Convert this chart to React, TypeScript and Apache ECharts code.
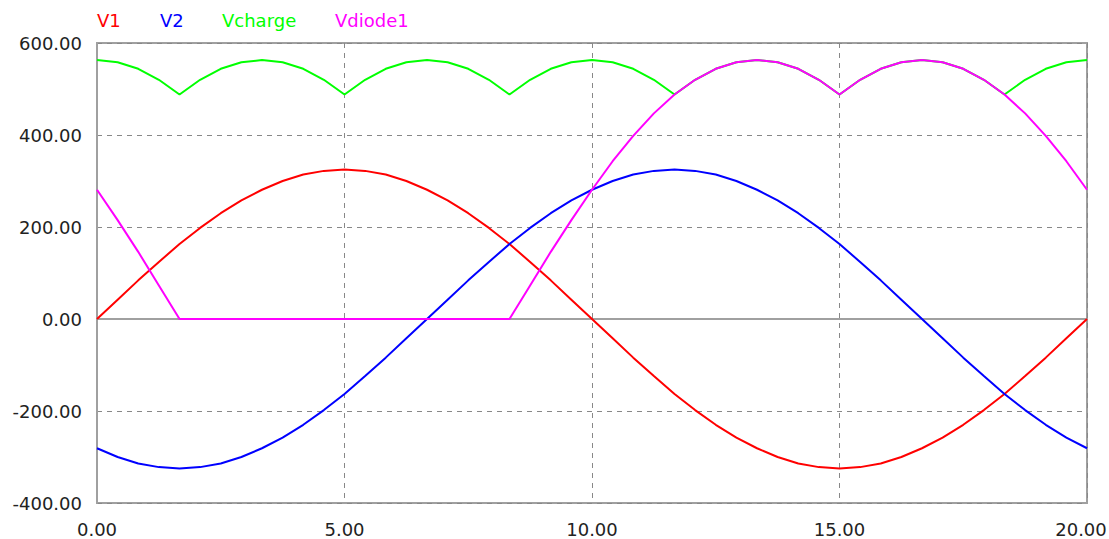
import React, { useEffect, useRef } from "react";
import * as echarts from "echarts";

const times = [0, 0.417, 0.833, 1.25, 1.667, 2.083, 2.5, 2.917, 3.333, 3.75, 4.167, 4.583, 5, 5.417, 5.833, 6.25, 6.667, 7.083, 7.5, 7.917, 8.333, 8.75, 9.167, 9.583, 10, 10.417, 10.833, 11.25, 11.667, 12.083, 12.5, 12.917, 13.333, 13.75, 14.167, 14.583, 15, 15.417, 15.833, 16.25, 16.667, 17.083, 17.5, 17.917, 18.333, 18.75, 19.167, 19.583, 20];

const v1 = [0, 42, 84, 124, 163, 198, 230, 258, 281, 300, 314, 322, 325, 322, 314, 300, 281, 258, 230, 198, 163, 124, 84, 42, 0, -42, -84, -124, -163, -198, -230, -258, -281, -300, -314, -322, -325, -322, -314, -300, -281, -258, -230, -198, -163, -124, -84, -42, 0];

const v2 = [-281, -300, -314, -322, -325, -322, -314, -300, -281, -258, -230, -198, -163, -124, -84, -42, 0, 42, 84, 124, 163, 198, 230, 258, 281, 300, 314, 322, 325, 322, 314, 300, 281, 258, 230, 198, 163, 124, 84, 42, 0, -42, -84, -124, -163, -198, -230, -258, -281];

const vcharge = [563, 558, 544, 520, 488, 520, 544, 558, 563, 558, 544, 520, 488, 520, 544, 558, 563, 558, 544, 520, 488, 520, 544, 558, 563, 558, 544, 520, 488, 520, 544, 558, 563, 558, 544, 520, 488, 520, 544, 558, 563, 558, 544, 520, 488, 520, 544, 558, 563];

const vdiode1 = [281, 215, 146, 73, 0, 0, 0, 0, 0, 0, 0, 0, 0, 0, 0, 0, 0, 0, 0, 0, 0, 73, 146, 215, 281, 343, 398, 447, 488, 520, 544, 558, 563, 558, 544, 520, 488, 520, 544, 558, 563, 558, 544, 520, 488, 447, 398, 343, 281];

const seriesNames = ["V1", "V2", "Vcharge", "Vdiode1"];
const seriesColors = ["#ff0000", "#0000ff", "#00ff00", "#ff00ff"];
const seriesValues = [v1, v2, vcharge, vdiode1];
const legendX = [97, 160, 222, 335];

const yTicks = { min: -400, max: 600, interval: 200 };
const xTicks = { min: 0, max: 20, interval: 5 };

export default function App() {
  const ref = useRef<HTMLDivElement>(null);
  useEffect(() => {
    if (!ref.current) return;
    const chart = echarts.init(ref.current, null, { renderer: "svg" });
    const font = "'DejaVu Sans', Verdana, sans-serif";
    chart.setOption({
      animation: false,
      backgroundColor: "#ffffff",
      grid: {
        left: 97,
        top: 43,
        right: 22,
        bottom: 36,
        show: true,
        borderColor: "#a0a0a0",
        borderWidth: 2,
        containLabel: false,
        outerBoundsMode: "none",
      },
      xAxis: {
        type: "value",
        min: xTicks.min,
        max: xTicks.max,
        interval: xTicks.interval,
        axisLine: { show: true, lineStyle: { color: "#a0a0a0", width: 2 } },
        axisTick: { show: false },
        axisLabel: {
          margin: 17,
          color: "#222",
          fontSize: 18,
          fontFamily: font,
          formatter: (v: number) =>
            v === xTicks.max ? `{m|${v.toFixed(2)}}` : v.toFixed(2),
          rich: {
            m: {
              padding: [0, 12, 0, 0],
              color: "#222",
              fontSize: 18,
              fontFamily: font,
            },
          },
        },
        splitLine: { show: true, lineStyle: { color: "#888", type: [5, 5], width: 1 } },
      },
      yAxis: {
        type: "value",
        min: yTicks.min,
        max: yTicks.max,
        interval: yTicks.interval,
        axisLine: { show: true, lineStyle: { color: "#a0a0a0", width: 2 } },
        axisTick: { show: false },
        axisLabel: {
          margin: 15,
          color: "#222",
          fontSize: 18,
          fontFamily: font,
          formatter: (v: number) => v.toFixed(2),
        },
        splitLine: { show: true, lineStyle: { color: "#888", type: [5, 5], width: 1 } },
      },
      graphic: seriesNames.map((n, i) => ({
        type: "text",
        left: legendX[i],
        top: 11,
        style: { text: n, fill: seriesColors[i], fontSize: 18, fontFamily: font },
      })),
      series: seriesNames.map((n, i) => ({
        name: n,
        type: "line",
        showSymbol: false,
        symbol: "none",
        smooth: false,
        lineStyle: { color: seriesColors[i], width: 2 },
        data: times.map((t, k) => [t, seriesValues[i][k]]),
        z: 2 + i,
      })),
    });
    return () => chart.dispose();
  }, []);
  return (
    <div
      ref={ref}
      style={{ position: "fixed", left: 0, top: 0, width: 1109, height: 539 }}
    />
  );
}
